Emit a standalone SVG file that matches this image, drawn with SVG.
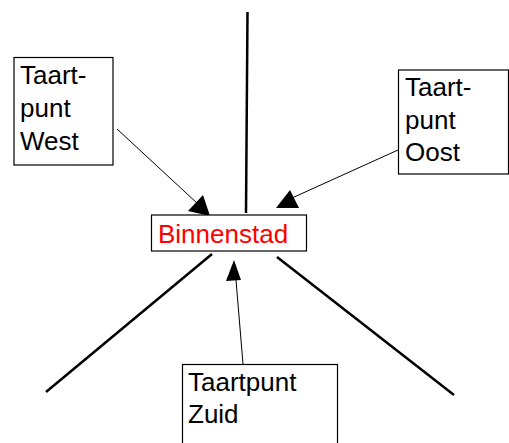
<svg xmlns="http://www.w3.org/2000/svg" width="509" height="443" viewBox="0 0 509 443">
  <style>
    .box { fill: #ffffff; stroke: #000000; stroke-width: 1.2; }
    .lbl { font-family: "Liberation Sans", Arial, sans-serif; font-size: 26px; fill: #000000; }
    .red { fill: #ff0000; }
    .axis { stroke: #000000; stroke-width: 2.5; fill: none; }
    .link { stroke: #000000; stroke-width: 1; fill: none; }
    .head { fill: #000000; stroke: none; }
  </style>
  <rect width="509" height="443" fill="#ffffff"/>

  <!-- dividing lines and connectors -->
  <g id="connectors">
    <line class="axis" x1="247.5" y1="12" x2="246" y2="213"/>
    <line class="axis" x1="212" y1="254" x2="46" y2="392"/>
    <line class="axis" x1="277" y1="257" x2="454" y2="395"/>

    <line class="link" x1="117" y1="129" x2="198" y2="204"/>
    <polygon class="head" points="210,216 188,211 203,195"/>

    <line class="link" x1="398" y1="150" x2="292" y2="198"/>
    <polygon class="head" points="276,208 299,208 290,190"/>

    <line class="link" x1="243" y1="364" x2="236" y2="280"/>
    <polygon class="head" points="234,260 226,281 241,280"/>
  </g>

  <g id="west">
    <rect class="box" x="14" y="57.5" width="99" height="107.5"/>
    <text class="lbl" x="20" y="84">Taart-</text>
    <text class="lbl" x="20" y="117">punt</text>
    <text class="lbl" x="20" y="150">West</text>
  </g>

  <g id="oost">
    <rect class="box" x="398.5" y="70" width="110" height="104"/>
    <text class="lbl" x="405" y="96">Taart-</text>
    <text class="lbl" x="405" y="128.5">punt</text>
    <text class="lbl" x="405" y="161">Oost</text>
  </g>

  <g id="binnenstad">
    <rect class="box" x="151.5" y="215" width="155" height="36"/>
    <text class="lbl red" x="158" y="243">Binnenstad</text>
  </g>

  <g id="zuid">
    <rect class="box" x="182.5" y="364.5" width="155" height="90"/>
    <text class="lbl" x="188" y="391">Taartpunt</text>
    <text class="lbl" x="188" y="423">Zuid</text>
  </g>
</svg>
